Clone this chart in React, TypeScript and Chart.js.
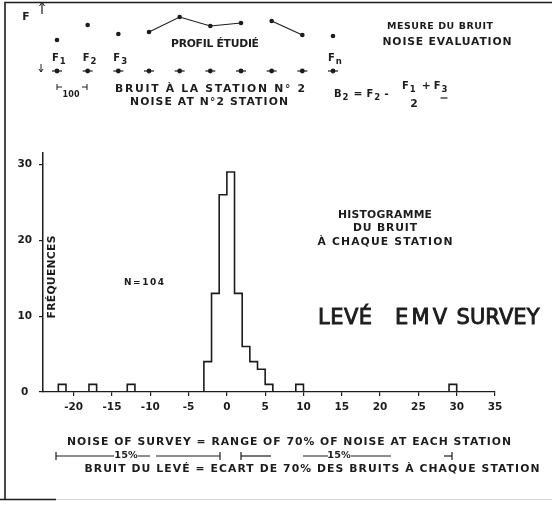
import React, { useEffect, useRef } from "react";
import { Chart, registerables } from "chart.js";

Chart.register(...registerables);

// ---- Histogram data (unit-width bins) ----
const binStart = [-22, -18, -13, -3, -2, -1, 0, 1, 2, 3, 4, 5, 9, 29];
const binCount = [1, 1, 1, 4, 13, 26, 29, 13, 6, 4, 3, 1, 1, 1];
const BIN_WIDTH = 1;
const X_MIN = -24;
const X_MAX = 35;
const Y_MAX = 31.5;

// ---- Profile schematic data ----
const stationNo = [1, 2, 3, 4, 5, 6, 7, 8, 9, 10];
const stationLabel = ["1", "2", "3", "", "", "", "", "", "", "n"];
const profileValue = [31, 46, 37, 39, 54, 45, 48, 50, 36, 35];
const profileLinkShown = [false, false, false, true, true, true, false, true, false];

const INK = "#1c1c1c";
const FONT = "'DejaVu Sans', sans-serif";

function spaced(
  ctx: CanvasRenderingContext2D,
  s: string,
  x: number,
  y: number,
  size: number,
  width?: number,
  align: "center" | "left" | "right" = "center",
  weight = "bold",
  sx = 1.08,
  stroke = 0
) {
  ctx.save();
  ctx.font = `${weight} ${size}px ${FONT}`;
  ctx.fillStyle = INK;
  ctx.strokeStyle = INK;
  ctx.textBaseline = "middle";
  ctx.textAlign = "left";
  (ctx as any).letterSpacing = "0px";
  const m = ctx.measureText(s).width;
  let ls = 0;
  if (width && s.length > 1) ls = (width / sx - m) / (s.length - 1);
  (ctx as any).letterSpacing = ls + "px";
  const total = (m + ls * (s.length - 1)) * sx;
  const left = align === "center" ? x - total / 2 : align === "right" ? x - total : x;
  ctx.translate(left, y);
  ctx.scale(sx, 1);
  ctx.fillText(s, 0, 0);
  if (stroke > 0) {
    ctx.lineWidth = stroke;
    ctx.strokeText(s, 0, 0);
  }
  ctx.restore();
  return total;
}

function subbed(ctx: CanvasRenderingContext2D, main: string, sub: string, x: number, y: number, size: number) {
  ctx.save();
  ctx.fillStyle = INK;
  ctx.textBaseline = "middle";
  ctx.textAlign = "left";
  ctx.font = `bold ${size}px ${FONT}`;
  const w = ctx.measureText(main).width;
  ctx.fillText(main, x, y);
  ctx.font = `bold ${size * 0.85}px ${FONT}`;
  ctx.fillText(sub, x + w + 1, y + size * 0.35);
  const w2 = ctx.measureText(sub).width;
  ctx.restore();
  return w + 1 + w2;
}

function line(ctx: CanvasRenderingContext2D, pts: number[][], lw = 1.2, color = INK) {
  ctx.save();
  ctx.strokeStyle = color;
  ctx.lineWidth = lw;
  ctx.beginPath();
  pts.forEach((p, i) => (i === 0 ? ctx.moveTo(p[0], p[1]) : ctx.lineTo(p[0], p[1])));
  ctx.stroke();
  ctx.restore();
}

const S = 10; // small lettering size

const topDecor = {
  id: "topDecor",
  afterDraw(chart: any) {
    const ctx: CanvasRenderingContext2D = chart.ctx;
    const xs = chart.scales.x;
    // frame
    line(ctx, [[5, 500], [5, 2.5], [552, 2.5]], 1.6);
    line(ctx, [[56, 499.5], [552, 499.5]], 1, "#d8d8d8");
    line(ctx, [[0, 499.5], [56, 499.5]], 1.6);
    // F axis arrows
    spaced(ctx, "F", 26, 17, S);
    line(ctx, [[42, 2], [42, 14]], 1.2);
    line(ctx, [[39.5, 6], [42, 2], [44.5, 6]], 1);
    line(ctx, [[41, 64], [41, 72]], 1);
    line(ctx, [[39, 69], [41, 72], [43, 69]], 1);
    // station labels
    stationNo.forEach((s, i) => {
      if (!stationLabel[i]) return;
      const px = xs.getPixelForValue(s);
      subbed(ctx, "F", stationLabel[i], px - 5, 58, 10);
    });
    // 100 m scale
    line(ctx, [[57, 84], [57, 90]], 1);
    line(ctx, [[57, 87], [62, 87]], 1);
    line(ctx, [[87, 84], [87, 90]], 1);
    line(ctx, [[82, 87], [87, 87]], 1);
    spaced(ctx, "100", 71, 95, 8, 17, "center", "bold", 1);
    spaced(ctx, "PROFIL ÉTUDIÉ", 215, 44, S, 88);
    spaced(ctx, "MESURE DU BRUIT", 440, 27, 9, 106, "center", "bold", 1.05);
    spaced(ctx, "NOISE EVALUATION", 447, 42, S, 129);
    spaced(ctx, "BRUIT À LA STATION N° 2", 210, 89, S, 190);
    spaced(ctx, "NOISE AT N°2 STATION", 209, 102, S, 158);
    // formula
    let cx = 334;
    cx += subbed(ctx, "B", "2", cx, 94, 10) + 5;
    spaced(ctx, "=", cx, 94, 10, undefined, "left");
    cx += 13;
    cx += subbed(ctx, "F", "2", cx, 94, 10) + 4;
    spaced(ctx, "-", cx, 94, 10, undefined, "left");
    cx = 402;
    cx += subbed(ctx, "F", "1", cx, 86, 10) + 6;
    spaced(ctx, "+", cx, 86, 10, undefined, "left");
    cx += 12;
    cx += subbed(ctx, "F", "3", cx, 86, 10);
    line(ctx, [[cx - 7, 98], [cx, 98]], 1.2);
    spaced(ctx, "2", 414, 104, 10);
  },
};

const bottomDecor = {
  id: "bottomDecor",
  afterDraw(chart: any) {
    const ctx: CanvasRenderingContext2D = chart.ctx;
    ctx.save();
    ctx.translate(52, 277);
    ctx.rotate(-Math.PI / 2);
    spaced(ctx, "FRÉQUENCES", 0, 0, S, 83);
    ctx.restore();
    spaced(ctx, "N=104", 144, 283, 9, 40, "center", "bold", 1);
    spaced(ctx, "HISTOGRAMME", 385, 215, S, 94);
    spaced(ctx, "DU BRUIT", 385, 228, S, 64);
    spaced(ctx, "À CHAQUE STATION", 385, 242, S, 135);
    spaced(ctx, "LEVÉ", 345, 319, 21, 54, "center", "normal", 1, 0.9);
    spaced(ctx, "EMV", 421, 319, 21, 52, "center", "normal", 1, 0.9);
    spaced(ctx, "SURVEY", 498, 319, 21, 83, "center", "normal", 1, 0.9);
    spaced(ctx, "NOISE OF SURVEY = RANGE OF 70% OF NOISE AT EACH STATION", 289, 442, S, 444);
    spaced(ctx, "BRUIT DU LEVÉ = ECART DE 70% DES BRUITS À CHAQUE STATION", 312, 469, S, 455);
    // range bars
    const y = 456;
    line(ctx, [[56, y - 4], [56, y + 4]], 1.2);
    line(ctx, [[56, y], [114, y]], 1);
    spaced(ctx, "15%", 126, y, 9);
    line(ctx, [[138, y], [150, y]], 1);
    line(ctx, [[156, y], [220, y]], 1.2);
    line(ctx, [[220, y - 4], [220, y + 4]], 1.2);
    line(ctx, [[241, y - 4], [241, y + 4]], 1.2);
    line(ctx, [[241, y], [271, y]], 1.2);
    line(ctx, [[303, y], [328, y]], 1);
    spaced(ctx, "15%", 339, y, 9);
    line(ctx, [[351, y], [391, y]], 1);
    line(ctx, [[444, y], [452, y]], 1.2);
    line(ctx, [[452, y - 4], [452, y + 4]], 1.2);
  },
};

function histogramOutline() {
  const pts: { x: number; y: number | null }[] = [];
  let prevEnd: number | null = null;
  binStart.forEach((s, i) => {
    if (prevEnd === null || s !== prevEnd) {
      if (prevEnd !== null) {
        pts.push({ x: prevEnd, y: 0 });
        pts.push({ x: prevEnd, y: null });
      }
      pts.push({ x: s, y: 0 });
    }
    pts.push({ x: s, y: binCount[i] });
    pts.push({ x: s + BIN_WIDTH, y: binCount[i] });
    prevEnd = s + BIN_WIDTH;
  });
  if (prevEnd !== null) pts.push({ x: prevEnd, y: 0 });
  return pts;
}

export default function App() {
  const topRef = useRef<HTMLCanvasElement>(null);
  const botRef = useRef<HTMLCanvasElement>(null);

  useEffect(() => {
    const tickFont = { family: FONT, size: 10.5, weight: "bold" as const };
    const bot = new Chart(botRef.current!, {
      type: "line",
      data: {
        datasets: [
          {
            data: histogramOutline() as any,
            borderColor: INK,
            borderWidth: 1.6,
            pointRadius: 0,
            spanGaps: false,
            tension: 0,
            clip: false as any,
          },
        ],
      },
      options: {
        responsive: false,
        animation: false,
        devicePixelRatio: 1,
        events: [],
        layout: { padding: { left: 0, right: 57, top: 153, bottom: 85 } },
        scales: {
          x: {
            type: "linear",
            min: X_MIN,
            max: X_MAX,
            afterFit: (s: any) => {
              s.height = 30;
            },
            ticks: { stepSize: 5, includeBounds: false, color: INK, font: tickFont, padding: 5, maxRotation: 0 } as any,
            grid: { drawOnChartArea: false, drawTicks: true, tickLength: 4, color: INK, lineWidth: 1.2 },
            border: { display: true, color: INK, width: 1.3, dash: [2, 3] },
          },
          y: {
            type: "linear",
            min: 0,
            max: Y_MAX,
            afterFit: (s: any) => {
              s.width = 43;
            },
            ticks: { stepSize: 10, includeBounds: false, color: INK, font: tickFont, padding: 7, crossAlign: "center" } as any,
            grid: { drawOnChartArea: false, drawTicks: true, tickLength: 4, color: INK, lineWidth: 1.2 },
            border: { display: true, color: INK, width: 1.5 },
          },
        },
        plugins: { legend: { display: false }, tooltip: { enabled: false } },
      },
      plugins: [bottomDecor],
    });

    const top = new Chart(topRef.current!, {
      type: "scatter",
      data: {
        datasets: [
          {
            data: stationNo.map((s, i) => ({ x: s, y: profileValue[i] })),
            showLine: true,
            borderColor: INK,
            borderWidth: 1.1,
            pointRadius: 2.3,
            pointBackgroundColor: INK,
            pointBorderWidth: 0,
            segment: {
              borderColor: (c: any) => (profileLinkShown[c.p0DataIndex] ? INK : "rgba(0,0,0,0)"),
            },
            clip: false as any,
          },
          {
            data: stationNo.map((s) => ({ x: s, y: 0 })),
            pointStyle: "line",
            pointRadius: 5,
            pointBorderColor: INK,
            pointBorderWidth: 1.2,
            clip: false as any,
          },
          {
            data: stationNo.map((s) => ({ x: s, y: 0 })),
            pointRadius: 2.4,
            pointBackgroundColor: INK,
            pointBorderWidth: 0,
            clip: false as any,
          },
        ],
      },
      options: {
        responsive: false,
        animation: false,
        devicePixelRatio: 1,
        events: [],
        layout: { padding: { left: 57, right: 219, top: 11, bottom: 436 } },
        scales: {
          x: { type: "linear", min: 1, max: 10, display: false },
          y: { type: "linear", min: 0, max: 60, display: false },
        },
        plugins: { legend: { display: false }, tooltip: { enabled: false } },
      },
      plugins: [topDecor],
    });

    return () => {
      top.destroy();
      bot.destroy();
    };
  }, []);

  return (
    <div style={{ position: "fixed", left: 0, top: 0, width: 552, height: 507, background: "#fff" }}>
      <canvas ref={botRef} width={552} height={507} style={{ position: "absolute", left: 0, top: 0 }} />
      <canvas ref={topRef} width={552} height={507} style={{ position: "absolute", left: 0, top: 0 }} />
    </div>
  );
}
